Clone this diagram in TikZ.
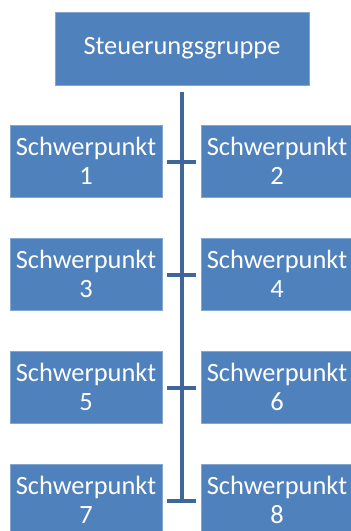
\documentclass[tikz,border=0pt]{standalone}
\usepackage{fontspec}
\setmainfont{Carlito}
\usetikzlibrary{positioning}
\definecolor{boxblue}{RGB}{79,129,189}
\definecolor{lineblue}{RGB}{62,102,155}
\tikzset{
  group/.style={fill=boxblue,draw=boxblue!70!white,line width=0.6pt,text=white,
    minimum width=254pt,minimum height=73pt,inner sep=0pt,font=\fontsize{26.4}{29}\selectfont},
  focus/.style={fill=boxblue,draw=boxblue!70!white,line width=0.6pt,text=white,
    minimum width=152pt,minimum height=72pt,inner sep=0pt,align=center,
    font=\fontsize{26.4}{29}\selectfont},
  bar/.style={lineblue,line width=4pt}
}
\begin{document}
\begin{tikzpicture}[x=1pt,y=-1pt]
\useasboundingbox (0,0) rectangle (351,531);
\clip (0,0) rectangle (351,531);
\node[group] (sg) at (182,48.5) {Steuerungsgruppe};
\node[focus] (s1) at (86,161) {Schwerpunkt\\1};
\node[focus] (s2) at (277,161) {Schwerpunkt\\2};
\node[focus] (s3) at ([yshift=-113pt]s1) {Schwerpunkt\\3};
\node[focus] (s4) at ([yshift=-113pt]s2) {Schwerpunkt\\4};
\node[focus] (s5) at ([yshift=-113pt]s3) {Schwerpunkt\\5};
\node[focus] (s6) at ([yshift=-113pt]s4) {Schwerpunkt\\6};
\node[focus] (s7) at ([yshift=-113pt]s5) {Schwerpunkt\\7};
\node[focus] (s8) at ([yshift=-113pt]s6) {Schwerpunkt\\8};
\coordinate (top) at ([yshift=-7pt]sg.south);
\coordinate (bot) at ([yshift=-1pt]top |- s7.east);
\draw[bar] (top) -- (bot);
\foreach \lft/\rgt in {s1/s2,s3/s4,s5/s6,s7/s8}
  \draw[bar] ([xshift=5pt,yshift=-1pt]\lft.east) -- ([xshift=-5pt,yshift=-1pt]\rgt.west);
\end{tikzpicture}
\end{document}
